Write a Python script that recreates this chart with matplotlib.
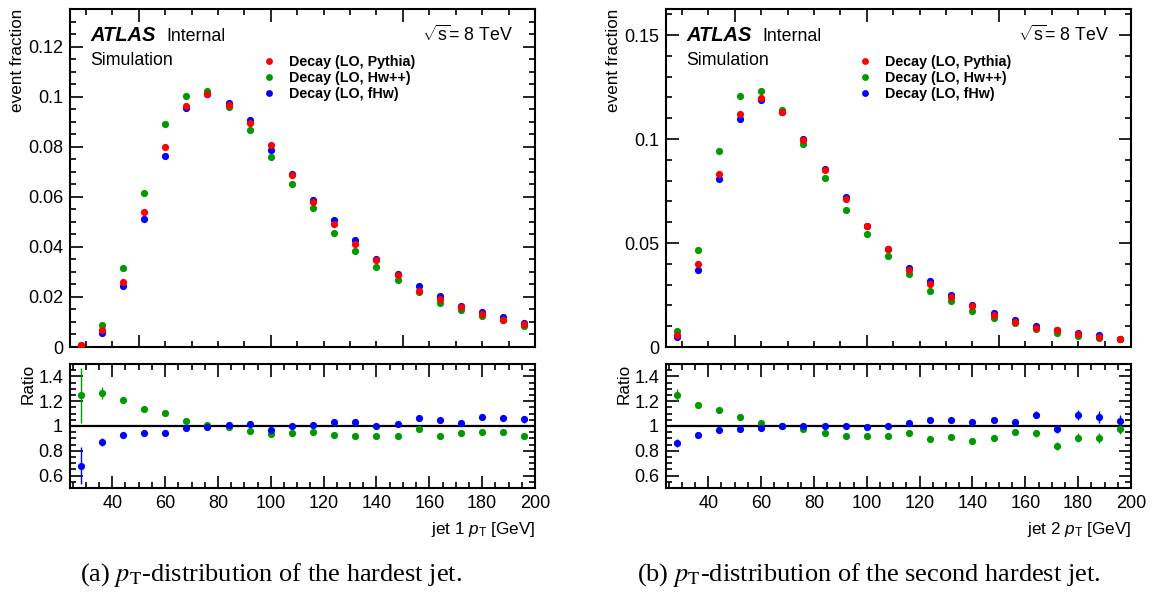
import numpy as np
import matplotlib
matplotlib.use('Agg')
import matplotlib.pyplot as plt
from matplotlib import ticker
from matplotlib import rcParams

rcParams.update({'font.family': ['Liberation Sans', 'DejaVu Sans'],
                 'mathtext.fontset': 'custom',
                 'mathtext.rm': 'Liberation Sans',
                 'mathtext.it': 'Liberation Sans:italic',
                 'mathtext.bf': 'Liberation Sans:bold'})

# bin centres [GeV], 8 GeV bins from 24 to 200
pt = [28, 36, 44, 52, 60, 68, 76, 84, 92, 100, 108, 116, 124, 132, 140,
      148, 156, 164, 172, 180, 188, 196]

labels = ['Decay (LO, Pythia)', 'Decay (LO, Hw++)', 'Decay (LO, fHw)']

# jet 1: event fractions
j1_pythia = [0.0006, 0.0067, 0.0260, 0.0539, 0.0799, 0.0961, 0.1009, 0.0967, 0.0896, 0.0805, 0.0688,
             0.0580, 0.0491, 0.0412, 0.0349, 0.0288, 0.0224, 0.0193, 0.0159, 0.0132, 0.0109, 0.0091]
j1_hwpp = [0.00075, 0.0086, 0.0316, 0.0615, 0.0889, 0.1004, 0.1024, 0.0960, 0.0865, 0.0760, 0.0651,
           0.0555, 0.0457, 0.0383, 0.0321, 0.0267, 0.0221, 0.0177, 0.0149, 0.0125, 0.0106, 0.0082]
j1_fhw = [0.0004, 0.0057, 0.0243, 0.0511, 0.0761, 0.0953, 0.1011, 0.0975, 0.0907, 0.0785, 0.0690,
          0.0587, 0.0509, 0.0429, 0.0350, 0.0293, 0.0243, 0.0203, 0.0163, 0.0139, 0.0119, 0.0095]
# jet 1: ratios to Pythia
j1_r_hwpp = [1.246, 1.265, 1.21, 1.138, 1.108, 1.043, 1.008, 0.99, 0.962, 0.935, 0.94,
             0.949, 0.924, 0.919, 0.916, 0.922, 0.978, 0.922, 0.94, 0.949, 0.951, 0.916]
j1_e_hwpp = [0.22, 0.05, 0.02, 0.012, 0.01, 0.008, 0.008, 0.008, 0.008, 0.009, 0.01,
             0.01, 0.011, 0.012, 0.012, 0.013, 0.015, 0.016, 0.017, 0.019, 0.02, 0.022]
j1_r_fhw = [0.681, 0.87, 0.927, 0.943, 0.946, 0.986, 0.99, 1.005, 1.014, 0.97, 1.003,
            1.008, 1.032, 1.032, 1.0, 1.016, 1.062, 1.046, 1.027, 1.073, 1.062, 1.054]
j1_e_fhw = [0.15, 0.035, 0.015, 0.01, 0.008, 0.008, 0.008, 0.008, 0.008, 0.009, 0.01,
            0.01, 0.011, 0.012, 0.012, 0.013, 0.015, 0.016, 0.017, 0.022, 0.024, 0.026]

# jet 2: event fractions
j2_pythia = [0.0059, 0.0401, 0.0831, 0.1120, 0.1197, 0.1129, 0.0995, 0.0852, 0.0712, 0.0582, 0.0473,
             0.0372, 0.0302, 0.0241, 0.0196, 0.0156, 0.0120, 0.0091, 0.0083, 0.0063, 0.0050, 0.0039]
j2_hwpp = [0.0075, 0.0468, 0.0942, 0.1205, 0.1232, 0.1139, 0.0977, 0.0812, 0.0659, 0.0541, 0.0436,
           0.0351, 0.0270, 0.0220, 0.0173, 0.0138, 0.0116, 0.0087, 0.0069, 0.0055, 0.0043, 0.0038]
j2_fhw = [0.0048, 0.0372, 0.0809, 0.1096, 0.1187, 0.1129, 0.0998, 0.0858, 0.0719, 0.0584, 0.0473,
          0.0382, 0.0316, 0.0252, 0.0204, 0.0165, 0.0128, 0.0103, 0.0082, 0.0069, 0.0056, 0.0040]
# jet 2: ratios to Pythia
j2_r_hwpp = [1.251, 1.17, 1.132, 1.073, 1.024, 1.003, 0.978, 0.946, 0.919, 0.919, 0.919,
             0.946, 0.895, 0.911, 0.881, 0.905, 0.954, 0.94, 0.84, 0.905, 0.9, 0.978]
j2_e_hwpp = [0.05, 0.015, 0.01, 0.008, 0.008, 0.008, 0.008, 0.009, 0.01, 0.011, 0.012,
             0.013, 0.014, 0.016, 0.017, 0.019, 0.022, 0.026, 0.03, 0.035, 0.04, 0.045]
j2_r_fhw = [0.862, 0.924, 0.97, 0.976, 0.986, 0.997, 1.003, 1.003, 1.003, 0.992, 0.997,
            1.022, 1.046, 1.051, 1.03, 1.049, 1.035, 1.092, 0.973, 1.092, 1.073, 1.038]
j2_e_fhw = [0.035, 0.012, 0.009, 0.008, 0.008, 0.008, 0.008, 0.009, 0.01, 0.011, 0.012,
            0.013, 0.014, 0.016, 0.017, 0.019, 0.022, 0.03, 0.03, 0.04, 0.045, 0.05]

captions = ['(a) $p_{\\mathrm{T}}$-distribution of the hardest jet.',
            '(b) $p_{\\mathrm{T}}$-distribution of the second hardest jet.']

c_red = '#ff0000'
c_green = '#009a00'
c_blue = '#0000ff'
ms = 5.2
fs_tick = 13
fs_lab = 12.3

W, H = 1160., 604.
fig = plt.figure(figsize=(W / 100., H / 100.), dpi=100)


def style_axes(ax):
    for s in ax.spines.values():
        s.set_linewidth(1.5)
    ax.tick_params(which='both', direction='in', top=True, right=True, width=1.2)
    ax.tick_params(which='major', length=9)
    ax.tick_params(which='minor', length=4.5)
    ax.tick_params(axis='both', labelsize=fs_tick, pad=5)


def panel(x0, ymax, ymaj, ymin, d_py, d_hw, d_fh, r_hw, e_hw, r_fh, e_fh, jet, cap, capx):
    ax = fig.add_axes([x0 / W, 1 - 347 / H, 465 / W, 338 / H])
    ax.plot(pt, d_py, 'o', ms=ms, color=c_red, mec='none', label=labels[0], zorder=4)
    ax.plot(pt, d_hw, 'o', ms=ms, color=c_green, mec='none', label=labels[1], zorder=3)
    ax.plot(pt, d_fh, 'o', ms=ms, color=c_blue, mec='none', label=labels[2], zorder=2)
    ax.set_xlim(24, 200)
    ax.set_ylim(0, ymax)
    ax.xaxis.set_major_locator(ticker.MultipleLocator(50))
    ax.xaxis.set_minor_locator(ticker.MultipleLocator(10))
    ax.yaxis.set_major_locator(ticker.MultipleLocator(ymaj))
    ax.yaxis.set_minor_locator(ticker.MultipleLocator(ymin))
    ax.yaxis.set_major_formatter(ticker.FuncFormatter(lambda v, p: '%g' % round(v, 3)))
    ax.set_xticklabels([])
    style_axes(ax)
    ax.set_ylabel('event fraction', fontsize=fs_lab, loc='top', labelpad=2)

    ax.text(0.043, 0.905, 'ATLAS', transform=ax.transAxes, fontsize=14.5,
            fontweight='bold', fontstyle='italic', va='baseline')
    ax.text(0.208, 0.905, 'Internal', transform=ax.transAxes, fontsize=12.8, va='baseline')
    ax.text(0.043, 0.835, 'Simulation', transform=ax.transAxes, fontsize=12.8, va='baseline')
    ax.text(0.953, 0.905, r'$\sqrt{\mathrm{s}}$= 8 TeV', transform=ax.transAxes,
            fontsize=12.8, ha='right', va='baseline')
    ax.legend(loc='upper left', bbox_to_anchor=(0.418, 0.863), frameon=False,
              prop={'weight': 'bold', 'size': 10.3}, handlelength=0.6,
              handletextpad=1.1, labelspacing=0.13, borderaxespad=0, borderpad=0,
              markerscale=0.95)

    rx = fig.add_axes([x0 / W, 1 - 488 / H, 465 / W, 124 / H])
    rx.axhline(1.0, color='black', lw=1.6, zorder=1)
    rx.errorbar(pt, r_hw, yerr=e_hw, fmt='o', ms=ms, color=c_green, mec='none',
                elinewidth=1.0, capsize=0, zorder=3)
    rx.errorbar(pt, r_fh, yerr=e_fh, fmt='o', ms=ms, color=c_blue, mec='none',
                elinewidth=1.0, capsize=0, zorder=3)
    rx.set_xlim(24, 200)
    rx.set_ylim(0.5, 1.5)
    rx.xaxis.set_major_locator(ticker.MultipleLocator(20))
    rx.xaxis.set_minor_locator(ticker.MultipleLocator(5))
    rx.yaxis.set_major_locator(ticker.FixedLocator([0.6, 0.8, 1.0, 1.2, 1.4]))
    rx.yaxis.set_minor_locator(ticker.MultipleLocator(0.05))
    rx.yaxis.set_major_formatter(ticker.FuncFormatter(lambda v, p: ('%g' % round(v, 2))))
    rx.xaxis.set_major_formatter(ticker.FuncFormatter(lambda v, p: '' if v < 30 else '%d' % v))
    style_axes(rx)
    rx.set_ylabel('Ratio', fontsize=fs_lab, loc='top', labelpad=2)
    rx.set_xlabel('jet %d $p_{\\mathrm{T}}$ [GeV]' % jet, fontsize=fs_lab, loc='right', labelpad=6)

    fig.text(capx / W, 1 - 575 / H, cap, ha='center', va='center', fontsize=19,
             family='Liberation Serif', math_fontfamily='stix')
    return ax, rx


panel(70, 0.135, 0.02, 0.005, j1_pythia, j1_hwpp, j1_fhw,
      j1_r_hwpp, j1_e_hwpp, j1_r_fhw, j1_e_fhw, 1, captions[0], 271)
panel(666, 0.1625, 0.05, 0.01, j2_pythia, j2_hwpp, j2_fhw,
      j2_r_hwpp, j2_e_hwpp, j2_r_fhw, j2_e_fhw, 2, captions[1], 869)

fig.savefig('out.png', dpi=100)
plt.close()
